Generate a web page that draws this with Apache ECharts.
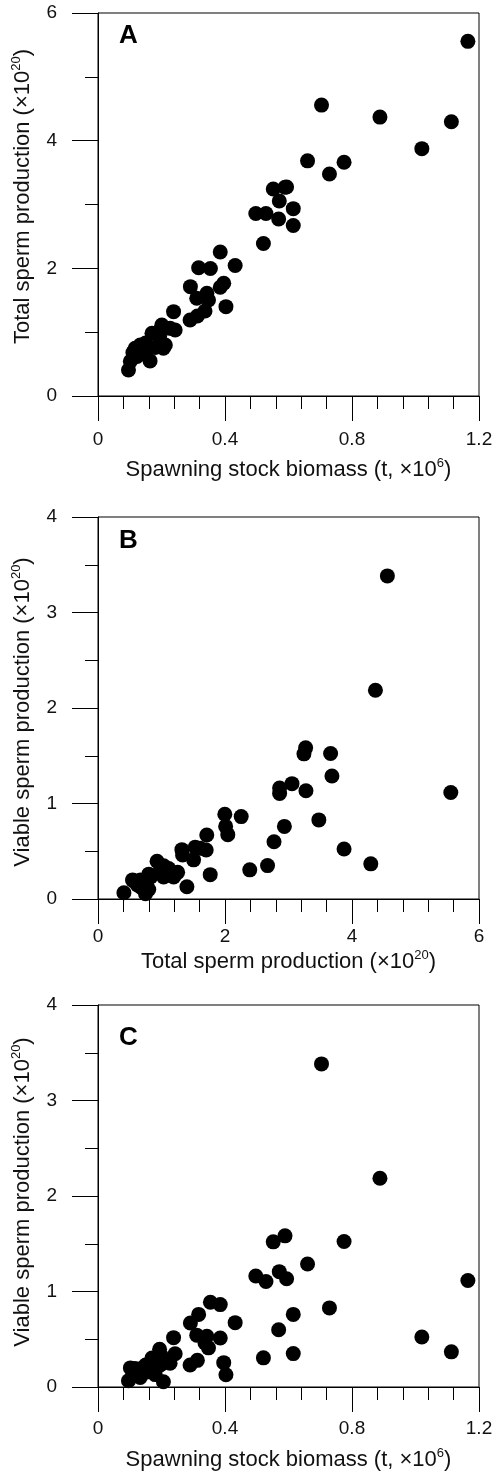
<!DOCTYPE html>
<html><head><meta charset="utf-8">
<script src="https://cdn.jsdelivr.net/npm/echarts@6/dist/echarts.min.js"></script>
<style>html,body{margin:0;padding:0;background:#fff}#c{width:497px;height:1481px}</style>
</head><body><div id="c"></div>
<script>
// Spawning stock biomass (t, x10^6)
const ssb = [1.165,0.704,0.888,1.113,1.020,0.660,0.775,0.729,0.552,0.589,0.594,0.571,0.615,0.497,0.529,0.569,0.615,0.521,
  0.385,0.432,0.317,0.354,0.291,0.396,0.385,0.403,0.311,0.348,0.343,0.337,0.290,0.313,0.238,0.243,0.201,0.194,0.170,0.206,
  0.227,0.196,0.096,0.102,0.117,0.133,0.154,0.164,0.123,0.140,0.150,0.110,0.212,0.180];
// Total sperm production (x10^20)
const totalSperm = [5.556,4.557,4.369,4.296,3.875,3.684,3.663,3.478,3.243,3.270,3.275,3.055,2.935,2.860,2.860,2.772,2.670,2.390,
  2.255,2.044,2.010,1.997,1.713,1.767,1.704,1.400,1.531,1.505,1.609,1.332,1.191,1.254,1.321,1.034,1.113,0.930,0.983,0.748,
  1.060,1.034,0.408,0.545,0.748,0.799,0.721,0.550,0.620,0.670,0.830,0.680,0.800,0.760];
// Viable sperm production (x10^20)
const viableSperm = [1.115,3.383,2.186,0.368,0.523,1.288,1.524,0.828,1.520,1.583,1.133,1.208,0.760,1.163,1.104,0.600,0.350,0.305,
  0.863,0.674,0.760,0.888,0.670,0.255,0.513,0.128,0.543,0.410,0.532,0.460,0.231,0.279,0.517,0.348,0.320,0.396,0.304,0.055,
  0.249,0.231,0.066,0.200,0.194,0.100,0.158,0.194,0.146,0.200,0.230,0.120,0.260,0.130];

const panelLetters = ['A','B','C'];
const ssbTicks = [0, 1.2, 0.4];      // min, max, interval
const totalTicks = [0, 6, 2];
const viableTicks = [0, 4, 1];

const FONT = 'Liberation Sans';
const INK = '#111';

function zip(a, b) { return a.map((v, i) => [v, b[i]]); }

const grids = [
  {left: 98, right: 18, top: 13, height: 383},
  {left: 98, right: 18, top: 517, height: 382},
  {left: 98, right: 18, top: 1005, height: 382}
].map(g => Object.assign({show: true, borderColor: '#000', borderWidth: 1, backgroundColor: 'transparent'}, g));

function nameStyle(pad) {
  return {
    fontSize: 22, fontFamily: FONT, color: INK, lineHeight: 26, padding: pad,
    rich: {s: {fontSize: 13, fontFamily: FONT, color: INK, lineHeight: 13, verticalAlign: 'top'}}
  };
}

function xAxis(idx, ticks, minorSplit, name, gap, labelMargin) {
  return {
    type: 'value', gridIndex: idx, min: ticks[0], max: ticks[1], interval: ticks[2],
    name: name, nameLocation: 'middle', nameGap: gap, nameTextStyle: nameStyle(0),
    axisLine: {show: true, onZero: false, lineStyle: {color: '#000', width: 1}},
    axisTick: {show: true, length: 25, lineStyle: {color: '#000', width: 1}},
    minorTick: {show: true, splitNumber: minorSplit, length: 13, lineStyle: {color: '#000', width: 1}},
    splitLine: {show: false}, minorSplitLine: {show: false},
    axisLabel: {fontSize: 19, fontFamily: FONT, color: INK, margin: labelMargin, showMinLabel: true, showMaxLabel: true}
  };
}
function yAxis(idx, ticks, minorSplit, name, pad) {
  return {
    type: 'value', gridIndex: idx, min: ticks[0], max: ticks[1], interval: ticks[2],
    name: name, nameLocation: 'middle', nameGap: 62, nameRotate: 90, nameTextStyle: nameStyle(pad),
    axisLine: {show: true, onZero: false, lineStyle: {color: '#000', width: 1}},
    axisTick: {show: true, length: 26, lineStyle: {color: '#000', width: 1}},
    minorTick: {show: true, splitNumber: minorSplit, length: 13, lineStyle: {color: '#000', width: 1}},
    splitLine: {show: false}, minorSplitLine: {show: false},
    axisLabel: {fontSize: 19, fontFamily: FONT, color: INK, margin: 41, showMinLabel: true, showMaxLabel: true}
  };
}

const ssbName = 'Spawning stock biomass (t, ×10{s|6})';
const totalName = 'Total sperm production (×10{s|20})';
const viableName = 'Viable sperm production (×10{s|20})';

const option = {
  animation: false,
  textStyle: {fontFamily: FONT},
  grid: grids,
  xAxis: [
    xAxis(0, ssbTicks, 5, ssbName, 61, 34),
    xAxis(1, totalTicks, 5, totalName, 50, 28),
    xAxis(2, ssbTicks, 5, ssbName, 60, 32)
  ],
  yAxis: [
    yAxis(0, totalTicks, 2, totalName, [0, 0, 0, 16]),
    yAxis(1, viableTicks, 2, viableName, [0, 8, 0, 0]),
    yAxis(2, viableTicks, 2, viableName, [0, 0, 0, 8])
  ],
  graphic: [
    {type: 'text', left: 119, top: 23, style: {text: panelLetters[0], font: 'bold 26px "Liberation Sans"', fill: '#000'}},
    {type: 'text', left: 119, top: 528, style: {text: panelLetters[1], font: 'bold 26px "Liberation Sans"', fill: '#000'}},
    {type: 'text', left: 119, top: 1025, style: {text: panelLetters[2], font: 'bold 26px "Liberation Sans"', fill: '#000'}}
  ],
  series: [
    {type: 'scatter', xAxisIndex: 0, yAxisIndex: 0, data: zip(ssb, totalSperm), symbolSize: 15, itemStyle: {color: '#000', opacity: 1}, silent: true},
    {type: 'scatter', xAxisIndex: 1, yAxisIndex: 1, data: zip(totalSperm, viableSperm), symbolSize: 15, itemStyle: {color: '#000', opacity: 1}, silent: true},
    {type: 'scatter', xAxisIndex: 2, yAxisIndex: 2, data: zip(ssb, viableSperm), symbolSize: 15, itemStyle: {color: '#000', opacity: 1}, silent: true}
  ]
};

const chart = echarts.init(document.getElementById('c'), null, {renderer: 'canvas'});
chart.setOption(option);
</script>
</body></html>
